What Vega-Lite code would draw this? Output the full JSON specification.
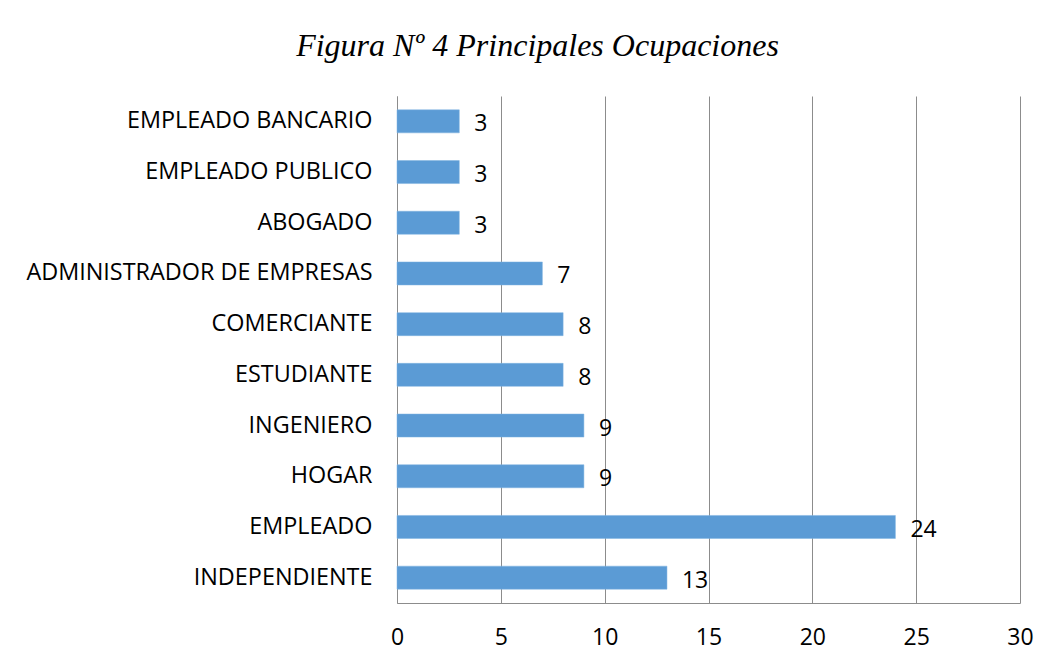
{
  "$schema": "https://vega.github.io/schema/vega-lite/v6.json",
  "autosize": "none",
  "width": 623,
  "height": 507,
  "padding": {"left": 397, "top": 96, "right": 29, "bottom": 61},
  "background": "white",
  "title": {
    "text": "Figura Nº 4 Principales Ocupaciones",
    "font": "Liberation Serif",
    "fontStyle": "italic",
    "fontWeight": "normal",
    "fontSize": 32,
    "color": "#000000",
    "anchor": "middle",
    "frame": "group",
    "baseline": "alphabetic",
    "offset": 8,
    "dx": -171
  },
  "data": {
    "values": [
      {"ocupacion": "EMPLEADO BANCARIO", "valor": 3},
      {"ocupacion": "EMPLEADO PUBLICO", "valor": 3},
      {"ocupacion": "ABOGADO", "valor": 3},
      {"ocupacion": "ADMINISTRADOR DE EMPRESAS", "valor": 7},
      {"ocupacion": "COMERCIANTE", "valor": 8},
      {"ocupacion": "ESTUDIANTE", "valor": 8},
      {"ocupacion": "INGENIERO", "valor": 9},
      {"ocupacion": "HOGAR", "valor": 9},
      {"ocupacion": "EMPLEADO", "valor": 24},
      {"ocupacion": "INDEPENDIENTE", "valor": 13}
    ]
  },
  "encoding": {
    "y": {
      "field": "ocupacion",
      "type": "nominal",
      "sort": null,
      "scale": {"paddingInner": 0.546, "paddingOuter": 0.273},
      "axis": {
        "title": null,
        "ticks": false,
        "grid": false,
        "domain": true,
        "domainColor": "#8c8c8c",
        "domainWidth": 1,
        "labelFont": "Open Sans",
        "labelFontSize": 23.4,
        "labelColor": "#000000",
        "labelPadding": 25,
        "labelLimit": 0
      }
    },
    "x": {
      "field": "valor",
      "type": "quantitative",
      "scale": {"domain": [0, 30], "nice": false},
      "axis": {
        "title": null,
        "values": [0, 5, 10, 15, 20, 25, 30],
        "ticks": false,
        "grid": true,
        "gridColor": "#8c8c8c",
        "gridWidth": 1,
        "domain": true,
        "domainColor": "#8c8c8c",
        "labelFont": "Open Sans",
        "labelFontSize": 23,
        "labelColor": "#000000",
        "labelPadding": 23,
        "labelFlush": false
      }
    }
  },
  "layer": [
    {"mark": {"type": "bar", "color": "#5B9BD5", "stroke": "#7FB2E0", "strokeWidth": 0.5}},
    {
      "mark": {
        "type": "text",
        "align": "left",
        "baseline": "middle",
        "dx": 15,
        "dy": 3,
        "font": "Open Sans",
        "fontSize": 23,
        "color": "#000000"
      },
      "encoding": {"text": {"field": "valor", "type": "quantitative"}}
    }
  ],
  "config": {"view": {"stroke": null}}
}
